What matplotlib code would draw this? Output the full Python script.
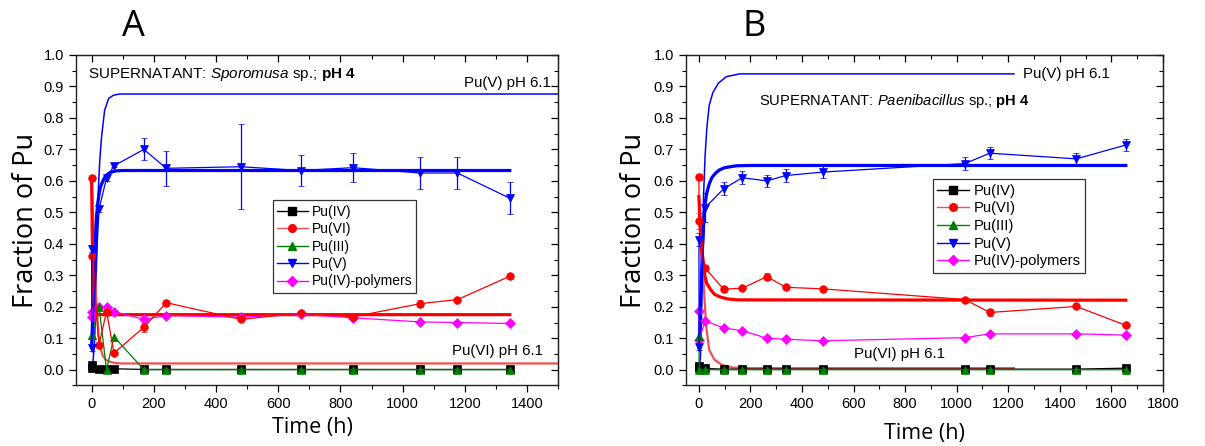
import matplotlib

matplotlib.use("Agg")
import matplotlib.pyplot as plt
from matplotlib.lines import Line2D
from matplotlib.ticker import MultipleLocator

plt.rcParams["font.family"] = ["Liberation Sans", "DejaVu Sans"]
plt.rcParams["mathtext.fontset"] = "custom"
plt.rcParams["mathtext.rm"] = "Liberation Sans"
plt.rcParams["mathtext.it"] = "Liberation Sans:italic"
plt.rcParams["mathtext.bf"] = "Liberation Sans:bold"

# ---- panel A: Sporomusa sp. ----
time_a = [0, 1, 24, 48, 72, 168, 240, 480, 672, 840, 1056, 1176, 1344]
pu4_a = [0.014, 0.004, 0.003, 0.002, 0.003, 0.001, 0.001, 0.001, 0.001, 0.001, 0.001, 0.001, 0.001]
pu6_a = [0.61, 0.36, 0.08, 0.185, 0.053, 0.135, 0.213, 0.16, 0.18, 0.168, 0.21, 0.223, 0.297]
pu6_err_a = [0.01, 0.005, 0.005, 0.005, 0.005, 0.015, 0.01, 0.005, 0.005, 0.005, 0.01, 0.005, 0.008]
pu3_a = [0.11, 0.11, 0.2, 0.0, 0.105, 0.0, 0.0, 0.0, 0.0, 0.0, 0.0, 0.0, 0.0]
pu5_a = [0.385, 0.07, 0.51, 0.61, 0.648, 0.70, 0.64, 0.645, 0.633, 0.642, 0.625, 0.625, 0.545]
pu5_err_a = [0.01, 0.01, 0.01, 0.01, 0.005, 0.035, 0.055, 0.135, 0.05, 0.047, 0.05, 0.05, 0.05]
poly_a = [0.185, 0.168, 0.2, 0.2, 0.185, 0.16, 0.172, 0.167, 0.176, 0.165, 0.152, 0.15, 0.147]

fit5_t_a = [0, 4, 8, 12, 16, 20, 25, 30, 40, 50, 60, 80, 100, 1344]
fit5_a = [0.07, 0.18, 0.30, 0.41, 0.49, 0.53, 0.565, 0.585, 0.608, 0.62, 0.627, 0.632, 0.633, 0.633]
fit6_t_a = [0, 2, 4, 6, 8, 12, 20, 1344]
fit6_a = [0.61, 0.45, 0.31, 0.23, 0.195, 0.178, 0.175, 0.175]
ph61_v_t_a = [0, 5, 10, 14, 18, 22, 26, 32, 42, 55, 70, 90, 1500]
ph61_v_a = [0.0, 0.03, 0.10, 0.25, 0.45, 0.58, 0.66, 0.74, 0.825, 0.862, 0.872, 0.876, 0.876]
ph61_vi_t_a = [0, 5, 10, 15, 22, 28, 36, 45, 62, 80, 100, 1500]
ph61_vi_a = [0.61, 0.48, 0.35, 0.22, 0.11, 0.07, 0.045, 0.032, 0.024, 0.021, 0.02, 0.02]

# ---- panel B: Paenibacillus sp. ----
time_b = [0, 1, 24, 96, 168, 264, 336, 480, 1032, 1128, 1464, 1656]
pu4_b = [0.012, 0.006, 0.004, 0.002, 0.002, 0.002, 0.002, 0.002, 0.002, 0.002, 0.002, 0.005]
pu6_b = [0.612, 0.473, 0.323, 0.256, 0.259, 0.296, 0.262, 0.257, 0.223, 0.182, 0.201, 0.141]
pu6_err_b = [0.01, 0.025, 0.01, 0.008, 0.005, 0.012, 0.008, 0.005, 0.005, 0.012, 0.005, 0.005]
pu3_b = [0.108, 0.0, 0.0, 0.0, 0.0, 0.0, 0.0, 0.0, 0.0, 0.0, 0.0, 0.0]
pu5_b = [0.413, 0.072, 0.515, 0.575, 0.61, 0.60, 0.617, 0.628, 0.655, 0.688, 0.67, 0.714]
pu5_err_b = [0.02, 0.01, 0.045, 0.02, 0.02, 0.02, 0.02, 0.018, 0.02, 0.02, 0.018, 0.02]
poly_b = [0.188, 0.095, 0.155, 0.133, 0.124, 0.1, 0.097, 0.092, 0.102, 0.114, 0.114, 0.11]

fit5_t_b = [0, 5, 10, 15, 20, 25, 30, 40, 50, 65, 80, 100, 145, 200, 1656]
fit5_b = [0.07, 0.17, 0.30, 0.41, 0.49, 0.53, 0.56, 0.59, 0.61, 0.625, 0.635, 0.642, 0.648, 0.649, 0.649]
fit6_t_b = [0, 5, 10, 15, 20, 30, 45, 60, 80, 110, 150, 1656]
fit6_b = [0.55, 0.45, 0.38, 0.34, 0.31, 0.275, 0.255, 0.24, 0.232, 0.225, 0.222, 0.221]
ph61_v_t_b = [0, 6, 10, 13, 18, 24, 31, 40, 54, 75, 106, 158, 1222]
ph61_v_b = [0.0, 0.04, 0.15, 0.30, 0.55, 0.68, 0.77, 0.84, 0.88, 0.91, 0.931, 0.94, 0.94]
ph61_vi_t_b = [0, 5, 10, 15, 20, 28, 40, 60, 90, 130, 200, 1222]
ph61_vi_b = [0.55, 0.50, 0.42, 0.33, 0.25, 0.14, 0.063, 0.032, 0.015, 0.007, 0.005, 0.005]

C_BLUE = "#0000ff"
C_RED = "#ff0000"
C_LRED = "#f05050"
C_GREEN = "#008000"
C_MAG = "#ff00ff"
MS = 5.5


def _style_axes(ax, xmax, xstep):
    ax.set_xlim(-50, xmax)
    ax.set_ylim(-0.05, 1.0)
    ax.xaxis.set_major_locator(MultipleLocator(xstep))
    ax.xaxis.set_minor_locator(MultipleLocator(xstep / 2))
    ax.yaxis.set_major_locator(MultipleLocator(0.1))
    ax.yaxis.set_minor_locator(MultipleLocator(0.05))
    ax.yaxis.set_major_formatter(lambda v, pos: f"{v:.1f}")
    ax.tick_params(which="major", direction="out", length=5, width=0.9, labelsize=10.5)
    ax.tick_params(which="minor", direction="out", length=3, width=0.8)
    for spine in ax.spines.values():
        spine.set_linewidth(1.0)
        spine.set_color("#222222")
    top = ax.secondary_xaxis("top")
    top.xaxis.set_major_locator(MultipleLocator(xstep))
    top.xaxis.set_minor_locator(MultipleLocator(xstep / 2))
    top.tick_params(which="major", direction="in", length=5, width=0.9, labeltop=False)
    top.tick_params(which="minor", direction="in", length=3, width=0.8)
    right = ax.secondary_yaxis("right")
    right.yaxis.set_major_locator(MultipleLocator(0.1))
    right.yaxis.set_minor_locator(MultipleLocator(0.05))
    right.tick_params(which="major", direction="in", length=5, width=0.9, labelright=False)
    right.tick_params(which="minor", direction="in", length=3, width=0.8)
    ax.set_xlabel("Time (h)", family=["Open Sans"], fontsize=15.5)
    ax.set_ylabel("Fraction of Pu", family=["Open Sans"], fontsize=19.5)


def _draw_panel(ax, t, pu4, pu6, pu6_err, pu3, pu5, pu5_err, poly, fits):
    # model curves (thick = this medium, thin = pH 6.1 reference)
    ax.plot(fits["v61_t"], fits["v61"], color=C_BLUE, lw=1.1, zorder=2)
    ax.plot(fits["vi61_t"], fits["vi61"], color=C_LRED, lw=1.6, zorder=2)
    ax.plot(fits["v_t"], fits["v"], color=C_BLUE, lw=2.3, zorder=3)
    ax.plot(fits["vi_t"], fits["vi"], color=C_RED, lw=2.3, zorder=3)

    common = dict(lw=0.9, ms=MS, markeredgewidth=0.5, zorder=4)
    ax.plot(t, pu4, color="black", marker="s", **common)
    ax.errorbar(t, pu6, yerr=pu6_err, color=C_RED, marker="o", capsize=2.5,
                elinewidth=0.9, capthick=0.9, **common)
    ax.plot(t, poly, color=C_MAG, marker="D", lw=0.9, ms=MS - 0.5, markeredgewidth=0.5, zorder=4)
    ax.errorbar(t, pu5, yerr=pu5_err, color=C_BLUE, marker="v", capsize=2.5,
                elinewidth=0.9, capthick=0.9, **common)
    ax.plot(t, pu3, color=C_GREEN, marker="^", **common)


def _legend(ax, anchor, size):
    handles = [
        Line2D([], [], color="black", marker="s", lw=1.0, ms=MS),
        Line2D([], [], color=C_LRED, marker="o", lw=1.0, ms=MS, markerfacecolor=C_RED, markeredgecolor=C_RED),
        Line2D([], [], color=C_GREEN, marker="^", lw=1.0, ms=MS),
        Line2D([], [], color=C_BLUE, marker="v", lw=1.0, ms=MS),
        Line2D([], [], color=C_MAG, marker="D", lw=1.0, ms=MS - 0.5),
    ]
    labels = ["Pu(IV)", "Pu(VI)", "Pu(III)", "Pu(V)", "Pu(IV)-polymers"]
    leg = ax.legend(handles, labels, loc="upper left", bbox_to_anchor=anchor, borderaxespad=0,
                    fontsize=size, frameon=True, fancybox=False, edgecolor="black",
                    handlelength=2.2, handletextpad=0.3, labelspacing=0.25, borderpad=0.3)
    leg.get_frame().set_linewidth(0.9)
    leg.set_zorder(6)


fig = plt.figure(figsize=(12.05, 4.46), dpi=100)
ax_a = fig.add_axes([0.0631, 0.1357, 0.4002, 0.7410])
ax_b = fig.add_axes([0.5693, 0.1357, 0.3958, 0.7410])

_draw_panel(ax_a, time_a, pu4_a, pu6_a, pu6_err_a, pu3_a, pu5_a, pu5_err_a, poly_a,
            dict(v_t=fit5_t_a, v=fit5_a, vi_t=fit6_t_a, vi=fit6_a,
                 v61_t=ph61_v_t_a, v61=ph61_v_a, vi61_t=ph61_vi_t_a, vi61=ph61_vi_a))
_draw_panel(ax_b, time_b, pu4_b, pu6_b, pu6_err_b, pu3_b, pu5_b, pu5_err_b, poly_b,
            dict(v_t=fit5_t_b, v=fit5_b, vi_t=fit6_t_b, vi=fit6_b,
                 v61_t=ph61_v_t_b, v61=ph61_v_b, vi61_t=ph61_vi_t_b, vi61=ph61_vi_b))

_style_axes(ax_a, 1500, 200)
_style_axes(ax_b, 1800, 200)
ax_a.yaxis.set_label_coords(-0.074, 0.5)
ax_b.yaxis.set_label_coords(-0.079, 0.5)
ax_a.xaxis.set_label_coords(0.49, -0.096)
ax_b.xaxis.set_label_coords(0.5, -0.114)

_legend(ax_a, (0.408, 0.560), 10)
_legend(ax_b, (0.517, 0.624), 10.6)

ax_a.text(-13, 0.939, r"SUPERNATANT: $\mathit{Sporomusa}$ sp.; $\mathbf{pH\ 4}$",
          fontsize=11, va="center", ha="left")
ax_a.text(1196, 0.911, "Pu(V) pH 6.1", fontsize=10.8, va="center", ha="left")
ax_a.text(1159, 0.058, "Pu(VI) pH 6.1", fontsize=10.8, va="center", ha="left")

ax_b.text(235, 0.854, r"SUPERNATANT: $\mathit{Paenibacillus}$ sp.; $\mathbf{pH\ 4}$",
          fontsize=10.6, va="center", ha="left")
ax_b.text(1256, 0.94, "Pu(V) pH 6.1", fontsize=10.8, va="center", ha="left")
ax_b.text(600, 0.051, "Pu(VI) pH 6.1", fontsize=10.8, va="center", ha="left")

fig.text(133 / 1205, 1 - 27 / 446, "A", fontsize=26, family=["Open Sans"], ha="center", va="center")
fig.text(754 / 1205, 1 - 27 / 446, "B", fontsize=26, family=["Open Sans"], ha="center", va="center")

fig.savefig("out.png", dpi=100)
plt.close(fig)
